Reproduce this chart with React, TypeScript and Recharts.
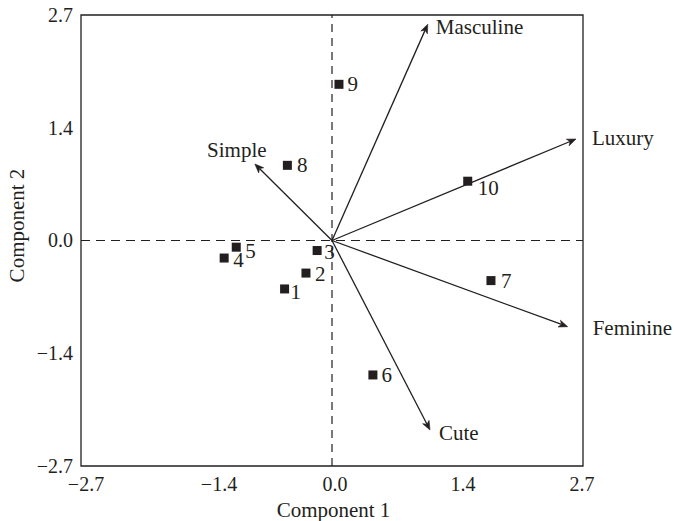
import React from 'react';
import { ScatterChart, Scatter, XAxis, YAxis, ReferenceLine, ReferenceArea } from 'recharts';

// ---- data ----
const pointIds = ['1', '2', '3', '4', '5', '6', '7', '8', '9', '10'];
const comp1 = [-0.51, -0.28, -0.16, -1.16, -1.03, 0.44, 1.71, -0.48, 0.075, 1.46];
const comp2 = [-0.58, -0.39, -0.12, -0.21, -0.08, -1.61, -0.48, 0.9, 1.87, 0.71];

const vectorNames = ['Masculine', 'Luxury', 'Simple', 'Feminine', 'Cute'];
const vectorX = [1.03, 2.625, -0.83, 2.535, 1.054];
const vectorY = [2.59, 1.215, 0.916, -1.032, -2.269];

const tickValues = [-2.7, -1.35, 0, 1.35, 2.7];
const tickLabels = ['\u22122.7', '\u22121.4', '0.0', '1.4', '2.7'];

const points = pointIds.map((id, i) => ({ id, x: comp1[i], y: comp2[i] }));

// ---- styles ----
const INK = '#231f20';
const FONT = '"Liberation Serif", "DejaVu Serif", serif';
const FS = 21;
const TICK_FS = 20;

const pointLabelOffset: Record<string, [number, number]> = {
  '1': [6, 3],
  '2': [9, 1],
  '3': [7, 1],
  '4': [9, 2],
  '5': [9, 4],
  '6': [8.5, 0],
  '7': [10, 0],
  '8': [9.5, 0],
  '9': [8.5, 0],
  '10': [10, 7],
};

const vectorLabelStyle: Record<string, { dx: number; dy: number; anchor: 'start' | 'middle' | 'end' }> = {
  Masculine: { dx: 8, dy: 3, anchor: 'start' },
  Luxury: { dx: 16, dy: -1, anchor: 'start' },
  Simple: { dx: -18, dy: -14, anchor: 'middle' },
  Feminine: { dx: 25, dy: 1, anchor: 'start' },
  Cute: { dx: 9, dy: 3, anchor: 'start' },
};

const xTickShift = [5, 12.5, 3, 5.5, -1];

const ArrowShape = (props: any) => {
  const { x1, y1, x2, y2, name } = props;
  const ang = Math.atan2(y2 - y1, x2 - x1);
  const L = 9;
  const W = 3.6;
  const N = 6.5;
  const cos = Math.cos(ang);
  const sin = Math.sin(ang);
  const bx = x2 - L * cos;
  const by = y2 - L * sin;
  const nx = x2 - N * cos;
  const ny = y2 - N * sin;
  const p1 = [bx - W * -sin, by - W * cos];
  const p2 = [bx + W * -sin, by + W * cos];
  const st = vectorLabelStyle[name];
  return (
    <g>
      <line x1={x1} y1={y1} x2={nx} y2={ny} stroke={INK} strokeWidth={1.3} />
      <path
        d={`M${x2},${y2} L${p1[0]},${p1[1]} L${nx},${ny} L${p2[0]},${p2[1]} Z`}
        fill={INK}
        stroke={INK}
        strokeWidth={0.6}
        strokeLinejoin="miter"
      />
      <text
        x={x2 + st.dx}
        y={y2 + st.dy}
        dy="0.34em"
        textAnchor={st.anchor}
        fontFamily={FONT}
        fontSize={FS}
        fill={INK}
      >
        {name}
      </text>
    </g>
  );
};

const SquarePoint = (props: any) => {
  const { cx, cy, payload } = props;
  if (cx == null || cy == null) return null;
  const off = pointLabelOffset[payload.id] || [8, 0];
  return (
    <g>
      <rect x={cx - 4.5} y={cy - 4.5} width={9} height={9} fill={INK} />
      <text
        x={cx + off[0]}
        y={cy + off[1]}
        dy="0.34em"
        textAnchor="start"
        fontFamily={FONT}
        fontSize={FS}
        fill={INK}
      >
        {payload.id}
      </text>
    </g>
  );
};

const XTick = (props: any) => {
  const { x, y, payload, index } = props;
  const i = tickValues.indexOf(payload.value);
  const idx = i >= 0 ? i : index;
  return (
    <text
      x={x + (xTickShift[idx] || 0)}
      y={y}
      dy="0.71em"
      textAnchor="middle"
      fontFamily={FONT}
      fontSize={TICK_FS}
      fill={INK}
    >
      {tickLabels[idx]}
    </text>
  );
};

const YTick = (props: any) => {
  const { x, y, payload, index } = props;
  const i = tickValues.indexOf(payload.value);
  const idx = i >= 0 ? i : index;
  return (
    <text
      x={x}
      y={y}
      dy="0.34em"
      textAnchor="end"
      fontFamily={FONT}
      fontSize={TICK_FS}
      fill={INK}
    >
      {tickLabels[idx]}
    </text>
  );
};

export default function App() {
  return (
    <div style={{ position: 'absolute', left: 0, top: 0, background: '#fff' }}>
      <ScatterChart width={676} height={521} margin={{ top: 15, right: 93, left: 0, bottom: 0 }}>
        <XAxis
          type="number"
          dataKey="x"
          domain={[-2.7, 2.7]}
          ticks={tickValues}
          interval={0}
          allowDataOverflow
          axisLine={false}
          tickLine={false}
          tickSize={0}
          tickMargin={11}
          height={55}
          tick={<XTick />}
          label={{
            content: (p: any) => {
              const vb = p.viewBox;
              return (
                <text
                  x={vb.x + vb.width / 2 + 1.5}
                  y={vb.y + 51}
                  textAnchor="middle"
                  fontFamily={FONT}
                  fontSize={FS}
                  fill={INK}
                >
                  Component 1
                </text>
              );
            },
          }}
        />
        <YAxis
          type="number"
          dataKey="y"
          domain={[-2.7, 2.7]}
          ticks={tickValues}
          interval={0}
          allowDataOverflow
          axisLine={false}
          tickLine={false}
          tickSize={0}
          tickMargin={8}
          width={81}
          tick={<YTick />}
          label={{
            content: (p: any) => {
              const vb = p.viewBox;
              const cx = vb.x + 17;
              const cy = vb.y + vb.height / 2 - 15;
              return (
                <text
                  x={cx}
                  y={cy}
                  dy="0.34em"
                  textAnchor="middle"
                  transform={`rotate(-90, ${cx}, ${cy})`}
                  fontFamily={FONT}
                  fontSize={FS}
                  fill={INK}
                >
                  Component 2
                </text>
              );
            },
          }}
        />
        <ReferenceArea
          x1={-2.7}
          x2={2.7}
          y1={-2.7}
          y2={2.7}
          fill="none"
          fillOpacity={0}
          stroke={INK}
          strokeWidth={1.3}
          ifOverflow="visible"
        />
        <ReferenceLine x={0} stroke={INK} strokeWidth={1.2} strokeDasharray="8 6" />
        <ReferenceLine y={0} stroke={INK} strokeWidth={1.2} strokeDasharray="9 6" />
        {vectorNames.map((name, i) => (
          <ReferenceLine
            key={name}
            segment={[
              { x: 0, y: 0 },
              { x: vectorX[i], y: vectorY[i] },
            ]}
            ifOverflow="visible"
            shape={(p: any) => <ArrowShape {...p} name={name} />}
          />
        ))}
        <Scatter data={points} isAnimationActive={false} shape={<SquarePoint />} />
      </ScatterChart>
    </div>
  );
}
